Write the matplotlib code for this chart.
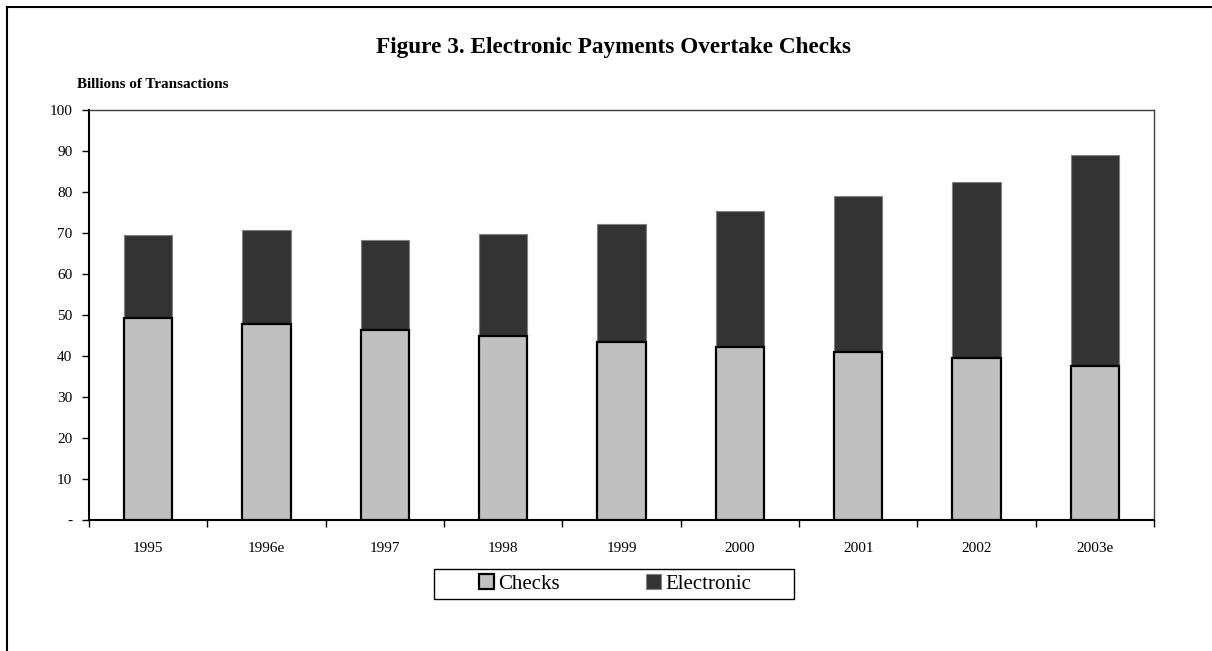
import numpy as np
import matplotlib.pyplot as plt
from matplotlib.patches import Rectangle
from matplotlib.lines import Line2D

plt.rcParams["font.family"] = ["Liberation Serif", "DejaVu Serif"]

years = ["1995", "1996e", "1997", "1998", "1999", "2000", "2001", "2002", "2003e"]
checks = [49.2, 47.8, 46.3, 44.9, 43.5, 42.1, 40.9, 39.6, 37.6]
electronic_total = [69.6, 70.8, 68.2, 69.8, 72.3, 75.4, 79.0, 82.5, 89.0]
electronic = [t - c for t, c in zip(electronic_total, checks)]

fig = plt.figure(figsize=(12.12, 6.51), dpi=100)
ax = fig.add_axes([89 / 1212, 1 - 520 / 651, (1154 - 89) / 1212, (520 - 110) / 651])

x = np.arange(len(years))
w = 0.41
ax.bar(x, checks, width=w, color="#c0c0c0", edgecolor="black", linewidth=1.6,
       label="Checks", zorder=3)
ax.bar(x, electronic, width=w, bottom=checks, color="#333333", edgecolor="#808080",
       linewidth=0.8, label="Electronic", zorder=2)

ax.set_xlim(-0.5, len(years) - 0.5)
ax.set_ylim(0, 100)
ax.set_yticks(np.arange(0, 101, 10))
ax.set_yticklabels(["-"] + [str(v) for v in range(10, 101, 10)])
ax.set_xticks(x)
ax.set_xticklabels(years)
ax.set_xticks(np.arange(-0.5, len(years)), minor=True)
ax.tick_params(axis="x", which="major", length=0, pad=16, labelsize=11)
ax.tick_params(axis="x", which="minor", length=5, width=1, direction="out")
ax.tick_params(axis="y", length=5, width=1, pad=7, labelsize=11)

for side in ["left", "bottom"]:
    ax.spines[side].set_linewidth(1.5)
for side in ["top", "right"]:
    ax.spines[side].set_linewidth(1.0)
    ax.spines[side].set_color("#404040")

fig.text(613 / 1212, 1 - 47 / 651, "Figure 3. Electronic Payments Overtake Checks",
         ha="center", va="center", fontsize=16.75, fontweight="bold")
fig.text(77 / 1212, 1 - 84 / 651, "Billions of Transactions",
         ha="left", va="center", fontsize=10.9, fontweight="bold")

# legend box drawn separately so the padding matches
fig.patches.append(Rectangle((434 / 1212, 1 - 599 / 651), 360 / 1212, 30 / 651,
                             transform=fig.transFigure, fill=False,
                             edgecolor="black", linewidth=1.0))
ax.legend(loc="center", bbox_to_anchor=(615 / 1212, 1 - 584 / 651),
          bbox_transform=fig.transFigure, ncol=2, frameon=False, fontsize=15,
          handlelength=0.75, handleheight=0.75, handletextpad=0.2,
          columnspacing=4.1, borderpad=0.1)

# outer frame (only top and left edges are visible, the rest is cropped)
fx, fy = 7 / 1212, 1 - 7 / 651
fig.lines.append(Line2D([fx, 1.0], [fy, fy], transform=fig.transFigure,
                        color="black", linewidth=1.5))
fig.lines.append(Line2D([fx, fx], [0.0, fy], transform=fig.transFigure,
                        color="black", linewidth=1.5))

fig.savefig("out.png", dpi=100)
